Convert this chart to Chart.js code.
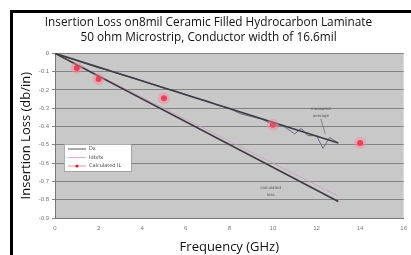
<!DOCTYPE html>
<html><head><meta charset="utf-8">
<script src="https://cdn.jsdelivr.net/npm/chart.js@4.4.1/dist/chart.umd.min.js"></script>
<style>html,body{margin:0;padding:0;background:#fff}#w{width:411px;height:255px}</style>
</head><body><div id="w"><canvas id="c" width="411" height="255"></canvas></div>
<script>
const titleLines = ["Insertion Loss on8mil Ceramic Filled Hydrocarbon Laminate", "50 ohm Microstrip, Conductor width of 16.6mil"];
const xTicks = [0, 2, 4, 6, 8, 10, 12, 14, 16];
const yTicks = [0, -0.1, -0.2, -0.3, -0.4, -0.5, -0.6, -0.7, -0.8, -0.9];
const lineFreq = [0, 13];
const upperLoss = [0, -0.49];
const lowerLoss = [0, -0.81];
const calcFreq = [0, 13];
const calcLoss = [0, -0.78];
const measFreq = [0,0.5,1,1.5,2,2.5,3,3.5,4,4.5,5,5.5,6,6.5,7,7.5,8,8.5,9,9.5,10,10.5,11,11.3,11.6,12,12.3,12.6,13];
const measLoss = [0,-0.02,-0.04,-0.06,-0.08,-0.095,-0.115,-0.13,-0.15,-0.17,-0.19,-0.205,-0.225,-0.245,-0.26,-0.285,-0.30,-0.33,-0.345,-0.36,-0.39,-0.40,-0.44,-0.41,-0.45,-0.45,-0.52,-0.46,-0.49];
const markFreq = [1, 2, 5, 10, 14];
const markLoss = [-0.08, -0.14, -0.245, -0.39, -0.49];
const legendLabels = ["Dx", "Idb/fx", "Calculated IL"];
const notes = [{x: 12.2, y: -0.31, lines: ["measured", "average"], tx: 12.4, ty: -0.44}, {x: 9.9, y: -0.74, lines: ["calculated", "loss"]}];

const pts = (xs, ys) => xs.map((x, i) => ({x, y: ys[i]}));

const framePlugin = {
  id: 'frame',
  beforeDraw(ch) {
    const {ctx, chartArea: a} = ch;
    ctx.save();
    ctx.fillStyle = '#fff';
    ctx.fillRect(0, 0, ch.width, ch.height);
    ctx.fillStyle = '#c8c8c8';
    ctx.fillRect(a.left, a.top, a.right - a.left, a.bottom - a.top);
    ctx.fillStyle = '#000';
    ctx.fillRect(10, 10, ch.width - 10, 3);
    ctx.fillRect(10, 10, 3, ch.height - 10);
    ctx.restore();
  },
  afterDatasetsDraw(ch) {
    const {ctx} = ch;
    const xs = ch.scales.x, ys = ch.scales.y;
    ctx.save();
    ctx.font = '4px "DejaVu Sans"';
    ctx.fillStyle = '#555';
    ctx.textAlign = 'center';
    notes.forEach(n => {
      const px = xs.getPixelForValue(n.x), py = ys.getPixelForValue(n.y);
      n.lines.forEach((l, i) => ctx.fillText(l, px, py + i * 7));
      if (n.tx !== undefined) {
        ctx.strokeStyle = '#666'; ctx.lineWidth = 0.7;
        ctx.beginPath(); ctx.moveTo(px, py + 9); ctx.lineTo(xs.getPixelForValue(n.tx), ys.getPixelForValue(n.ty)); ctx.stroke();
      }
    });
    const lx = 64, ly = 144, lw = 67, lh = 27;
    ctx.fillStyle = '#fff';
    ctx.fillRect(lx, ly, lw, lh);
    ctx.strokeStyle = '#999'; ctx.lineWidth = 0.8;
    ctx.strokeRect(lx + 0.5, ly + 0.5, lw, lh);
    const cols = ['#555', '#e8b0c0', '#f090a0'];
    ctx.font = '5px "DejaVu Sans"';
    ctx.textAlign = 'left'; ctx.textBaseline = 'middle';
    legendLabels.forEach((lab, i) => {
      const yy = ly + 5 + i * 8.5;
      ctx.strokeStyle = cols[i]; ctx.lineWidth = 1;
      ctx.beginPath(); ctx.moveTo(lx + 4, yy); ctx.lineTo(lx + 22, yy); ctx.stroke();
      if (i === 2) { ctx.fillStyle = '#d02030'; ctx.beginPath(); ctx.arc(lx + 13, yy, 1.5, 0, 7); ctx.fill(); }
      ctx.fillStyle = '#444';
      ctx.fillText(lab, lx + 25, yy);
    });
    ctx.restore();
  }
};

new Chart(document.getElementById('c'), {
  type: 'scatter',
  data: {
    datasets: [
      {label: 'glow', data: pts(markFreq, markLoss), pointRadius: 6, pointBackgroundColor: 'rgba(255,130,150,0.45)', pointBorderWidth: 0, showLine: false},
      {label: 'Dx', data: pts(lineFreq, upperLoss), showLine: true, borderColor: '#3c3c44', borderWidth: 1.6, pointRadius: 0},
      {label: 'lower', data: pts(lineFreq, lowerLoss), showLine: true, borderColor: '#3c3c44', borderWidth: 1.6, pointRadius: 0},
      {label: 'Idb/fx', data: pts(calcFreq, calcLoss), showLine: true, borderColor: 'rgba(220,150,190,0.7)', borderWidth: 1, pointRadius: 0},
      {label: 'meas', data: pts(measFreq, measLoss), showLine: true, borderColor: '#6a6a88', borderWidth: 1, pointRadius: 0},
      {label: 'Calculated IL', data: pts(markFreq, markLoss), showLine: false, pointRadius: 3, pointBackgroundColor: '#d8102a', pointBorderWidth: 0}
    ]
  },
  options: {
    responsive: false, animation: false, devicePixelRatio: 1,
    layout: {padding: {left: 12, right: 6, top: 0, bottom: 0}},
    plugins: {
      legend: {display: false}, tooltip: {enabled: false},
      title: {display: true, text: titleLines, color: '#111', font: {family: 'Open Sans', size: 11.8, weight: 'normal', lineHeight: 1.2}, padding: {top: 16, bottom: 9}}
    },
    scales: {
      x: {
        type: 'linear', min: 0, max: 16,
        afterBuildTicks: s => { s.ticks = xTicks.map(v => ({value: v})); },
        afterFit: s => { s.height = 37; },
        grid: {display: false, drawTicks: true, tickLength: 3},
        border: {color: '#777'},
        ticks: {color: '#777', font: {size: 6}, padding: 4},
        title: {display: true, text: 'Frequency (GHz)', color: '#111', font: {family: 'Open Sans', size: 13}, padding: {top: 0, bottom: 0}}
      },
      y: {
        min: -0.9, max: 0,
        afterBuildTicks: s => { s.ticks = yTicks.map(v => ({value: v})); },
        afterFit: s => { s.width = 43; },
        grid: {color: '#838383', lineWidth: 1, tickLength: 3},
        border: {color: '#777'},
        ticks: {color: '#777', font: {size: 6}, padding: 3, callback: v => Math.abs(v) < 1e-9 ? '0' : v.toFixed(1)},
        title: {display: true, text: 'Insertion Loss (db/in)', color: '#111', font: {family: 'Open Sans', size: 13}, padding: {top: 6, bottom: 0}}
      }
    }
  },
  plugins: [framePlugin]
});
</script></body></html>
